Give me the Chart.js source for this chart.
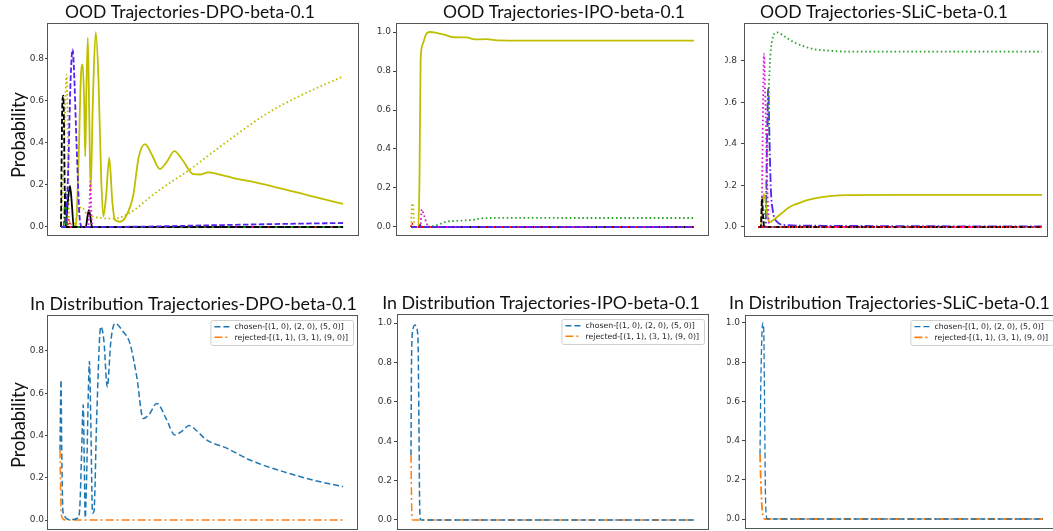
<!DOCTYPE html>
<html>
<head>
<meta charset="utf-8">
<script src="https://cdn.jsdelivr.net/npm/chart.js@4.4.1/dist/chart.umd.min.js"></script>
<style>
html,body{margin:0;padding:0;background:#fff;width:1053px;height:531px;overflow:hidden;position:relative}
canvas{position:absolute}
</style>
</head>
<body>
<canvas id="p1"></canvas><canvas id="p2"></canvas><canvas id="p3"></canvas>
<canvas id="p4"></canvas><canvas id="p5"></canvas><canvas id="p6"></canvas>
<script>
// ---------------- titles / labels ----------------
const panelTitles = [
  "OOD Trajectories-DPO-beta-0.1",
  "OOD Trajectories-IPO-beta-0.1",
  "OOD Trajectories-SLiC-beta-0.1",
  "In Distribution Trajectories-DPO-beta-0.1",
  "In Distribution Trajectories-IPO-beta-0.1",
  "In Distribution Trajectories-SLiC-beta-0.1"
];
const yAxisLabel = "Probability";
const legendLabels = ["chosen-[(1, 0), (2, 0), (5, 0)]", "rejected-[(1, 1), (3, 1), (9, 0)]"];
const ticksTo08 = [0, 0.2, 0.4, 0.6, 0.8];
const ticksTo10 = [0, 0.2, 0.4, 0.6, 0.8, 1.0];

// ---------------- OOD DPO ----------------
const dpoOodOliveSolidX = [0,4.5,5.3,6.3,7.0,7.7,8.2,8.6,9.0,9.5,10.0,10.5,11.3,12.3,13.3,14.2,15.0,16.0,17.1,18.2,19.1,20.9,23.0,25.6,27.5,29.8,32.0,35.1,37.5,40.2,43.0,46.9,49.5,52.2,56.0,61.1,67.0,72.9,79.0,84.8,92.0,100];
const dpoOodOliveSolidY = [0,0,0.01,0.35,0.70,0.774,0.60,0.336,0.65,0.90,0.55,0.17,0.60,0.928,0.70,0.25,0.05,0.15,0.33,0.12,0.035,0.025,0.05,0.15,0.33,0.395,0.35,0.276,0.31,0.361,0.32,0.252,0.25,0.26,0.25,0.233,0.218,0.20,0.18,0.161,0.136,0.11];
const dpoOodOliveDotX = [0,0.9,2.0,2.5,2.9,4.6,6.0,7.3,9.2,11.3,14.0,17.4,20.9,25.9,31.8,38.0,44.8,54.2,61.2,73.0,84.8,100];
const dpoOodOliveDotY = [0,0.30,0.726,0.35,0.03,0.01,0.07,0.095,0.06,0.05,0.043,0.04,0.045,0.08,0.145,0.205,0.265,0.36,0.43,0.54,0.625,0.717];
const dpoOodBlueDashX = [0,1.4,2.5,3.4,4.1,4.6,5.5,6.7,7.5,30,45,60,80,100];
const dpoOodBlueDashY = [0,0,0.25,0.70,0.846,0.75,0.40,0.03,0,0.002,0.006,0.010,0.015,0.019];
const dpoOodBlackDashX = [0,0.2,0.5,0.8,1.1,1.4,1.8,100];
const dpoOodBlackDashY = [0,0.3,0.6,0.625,0.45,0.1,0,0];
const dpoOodGreenX = [0,0.9,1.3,1.6,1.9,2.3,100];
const dpoOodGreenY = [0,0,0.1,0.165,0.08,0,0];
const dpoOodRedX = [0,2.2,2.8,3.4,100];
const dpoOodRedY = [0,0,0.035,0,0];
const dpoOodMagentaX = [0,9.6,10.1,10.4,10.8,11.2,100];
const dpoOodMagentaY = [0,0,0.1,0.216,0.05,0,0];
const dpoOodBlackSolidX = [0,1.6,2.4,3.2,3.9,4.5,8.8,9.4,9.9,10.4,11.0,100];
const dpoOodBlackSolidY = [0,0,0.12,0.196,0.1,0,0,0.05,0.08,0.05,0,0];

// ---------------- OOD IPO ----------------
const ipoOodOliveSolidX = [0,2.6,3.0,3.4,4.2,5.2,6.7,9.0,11.9,15.0,19.6,22.5,26.5,31.2,40,60,80,100];
const ipoOodOliveSolidY = [0,0,0.25,0.86,0.94,0.985,1.0,0.996,0.986,0.973,0.972,0.962,0.963,0.957,0.956,0.956,0.956,0.956];
const ipoOodOliveDotX = [0,0.15,0.4,0.7,0.95,1.2,100];
const ipoOodOliveDotY = [0,0.06,0.12,0.12,0.05,0,0];
const ipoOodMagentaX = [0,3.3,3.8,4.6,5.5,6.3,100];
const ipoOodMagentaY = [0,0,0.09,0.06,0.02,0,0];
const ipoOodRedX = [0,0.3,0.6,1.0,2.7,3.0,3.3,100];
const ipoOodRedY = [0,0.02,0.01,0,0,0.015,0,0];
const ipoOodGreenDotX = [0,6,9.1,12.6,17.3,22,24.4,28,40,60,80,100];
const ipoOodGreenDotY = [0,0.002,0.01,0.027,0.032,0.037,0.044,0.046,0.047,0.046,0.046,0.046];
const ipoOodBlueX = [0,3.0,3.3,3.6,100];
const ipoOodBlueY = [0,0,0.01,0,0];
const ipoOodBlackX = [0,100];
const ipoOodBlackY = [0,0];

// ---------------- OOD SLiC ----------------
const slicOodGreenDotX = [0,1.5,2.3,3.1,3.6,4.2,5.0,6.6,9.5,13,16.5,20,24.6,31.7,50,75,100];
const slicOodGreenDotY = [0,0,0.05,0.21,0.56,0.79,0.9,0.938,0.917,0.888,0.869,0.856,0.85,0.845,0.845,0.845,0.845];
const slicOodMagentaX = [0,1.2,1.7,2.1,2.6,3.3,4.0,100];
const slicOodMagentaY = [0,0,0.5,0.834,0.6,0.19,0,0];
const slicOodBlueX = [0,2.7,3.1,3.6,4.0,4.5,5.2,6.6,9,20,50,100];
const slicOodBlueY = [0,0,0.35,0.668,0.45,0.19,0.08,0.026,0.01,0.006,0.004,0.003];
const slicOodOliveSolidX = [0,1.0,1.5,2.1,2.7,3.6,4.3,5.5,8.3,11,14.2,17,20,26,31.7,50,75,100];
const slicOodOliveSolidY = [0,0,0.1,0.16,0.12,0.035,0.025,0.035,0.066,0.095,0.114,0.128,0.138,0.15,0.154,0.155,0.155,0.155];
const slicOodBlackDashX = [0,1.0,1.4,1.8,2.2,100];
const slicOodBlackDashY = [0,0,0.14,0.05,0,0];
const slicOodRedX = [0,100];
const slicOodRedY = [0,0];

// ---------------- In distribution ----------------
const dpoIdChosenX = [0,0.2,0.35,0.6,1.0,1.5,2.5,4.5,6.3,7.0,7.6,8.2,8.6,8.9,9.4,10.0,10.4,10.9,11.5,12.0,13.0,14.4,15.5,16.7,18.0,19.4,22.4,24.7,27.1,29.4,31.5,34.2,37.5,40.6,43.0,45.7,48.5,51.8,58.9,67.1,78.9,90.7,100];
const dpoIdChosenY = [0.33,0.55,0.663,0.35,0.05,0.02,0.005,0.002,0.01,0.06,0.3,0.545,0.25,0.01,0.2,0.6,0.75,0.45,0.033,0.04,0.5,0.915,0.85,0.63,0.85,0.93,0.89,0.836,0.68,0.48,0.50,0.552,0.48,0.402,0.42,0.447,0.42,0.379,0.34,0.284,0.229,0.185,0.158];
const dpoIdRejectedX = [0,0.15,0.4,0.8,1.8,100];
const dpoIdRejectedY = [0.33,0.2,0.04,0.01,0,0];
const ipoIdChosenX = [0,0.15,0.4,0.8,1.4,2.0,2.5,2.8,3.1,3.5,100];
const ipoIdChosenY = [0.33,0.75,0.93,0.975,0.99,0.975,0.9,0.5,0.05,0,0];
const ipoIdRejectedX = [0,0.15,0.35,0.7,100];
const ipoIdRejectedY = [0.33,0.15,0.01,0,0];
const slicIdChosenX = [0,0.3,0.7,1.0,1.3,1.6,1.9,2.2,2.6,100];
const slicIdChosenY = [0.33,0.7,0.95,1.0,0.97,0.6,0.15,0.02,0,0];
const slicIdRejectedX = [0,0.4,0.8,1.2,1.7,100];
const slicIdRejectedY = [0.33,0.15,0.04,0.01,0,0];

// ---------------- styling ----------------
const COLORS = { olive:'#bfbf00', blue:'#5522ee', black:'#000000', green:'#139413', red:'#ff0000',
                 magenta:'#dd11dd', gdot:'#2aa52a', chosen:'#1f77b4', rejected:'#ff7f0e' };
const DASH = { solid: [], dashed: [5.5, 2.4], dotted: [1.6, 2.6], dashdot: [9, 2.4, 1.6, 2.4],
               chosenDash: [6, 3], rejDash: [8, 3, 2, 3] };

function pts(xs, ys) {
  const n = Math.min(xs.length, ys.length);
  const out = [];
  for (let i = 0; i < n; i++) out.push({ x: xs[i], y: ys[i] });
  return out;
}

const framePlugin = {
  id: 'panelFrame',
  afterDraw(chart, args, opts) {
    const a = chart.chartArea, ctx = chart.ctx;
    ctx.save();
    ctx.strokeStyle = opts.color || '#555';
    ctx.lineWidth = 1;
    ctx.strokeRect(Math.round(a.left) - 0.5, Math.round(a.top) + 0.5,
                   Math.round(a.right - a.left) + 1, Math.round(a.bottom - a.top) - 1);
    ctx.restore();
  }
};

const textPlugin = {
  id: 'panelText',
  afterDraw(chart, args, opts) {
    const ctx = chart.ctx;
    (opts.items || []).forEach(it => {
      ctx.save();
      ctx.font = '100px ' + it.family;
      const w = ctx.measureText(it.text).width;
      const size = 100 * it.width / w;
      ctx.font = size.toFixed(2) + 'px ' + it.family;
      ctx.fillStyle = it.color || '#111';
      ctx.textBaseline = 'alphabetic';
      ctx.textAlign = 'center';
      ctx.translate(it.x - opts.ox, it.y - opts.oy);
      if (it.rotate) ctx.rotate(-Math.PI / 2);
      ctx.fillText(it.text, 0, 0);
      ctx.restore();
    });
  }
};

const legendPlugin = {
  id: 'panelLegend',
  afterDraw(chart, args, opts) {
    if (!opts.show) return;
    const ctx = chart.ctx, a = chart.chartArea;
    const ds = chart.data.datasets.filter(d => d.label);
    ctx.save();
    ctx.font = '7.8px "DejaVu Sans"';
    const tw = Math.max(...ds.map(d => ctx.measureText(d.label).width));
    const pad = 4, sample = 16, gap = 4, rowH = 10.6;
    const w = pad + sample + gap + tw + 5, h = 25;
    const x0 = a.right - 4 - w, y0 = a.top + 5;
    ctx.beginPath();
    ctx.roundRect(x0 + 0.5, y0 + 0.5, w, h, 2);
    ctx.fillStyle = 'rgba(255,255,255,0.85)';
    ctx.fill();
    ctx.strokeStyle = '#d0d0d0';
    ctx.lineWidth = 1;
    ctx.stroke();
    ds.forEach((d, i) => {
      const cy = y0 + 6.7 + rowH * i;
      ctx.beginPath();
      ctx.setLineDash(d.borderDash || []);
      ctx.strokeStyle = d.borderColor;
      ctx.lineWidth = d.borderWidth;
      ctx.moveTo(x0 + pad, cy);
      ctx.lineTo(x0 + pad + sample, cy);
      ctx.stroke();
      ctx.setLineDash([]);
      ctx.fillStyle = '#222';
      ctx.textAlign = 'left';
      ctx.textBaseline = 'middle';
      ctx.fillText(d.label, x0 + pad + sample + gap, cy + 0.5);
    });
    ctx.restore();
  }
};

function makePanel(cfg) {
  const cv = document.getElementById(cfg.id);
  const [bx, by, bw, bh] = cfg.box;
  cv.width = bw; cv.height = bh;
  cv.style.left = bx + 'px'; cv.style.top = by + 'px';
  const [fl, ft, fr, fb] = cfg.frame;
  const yW = fl - bx;
  new Chart(cv, {
    type: 'line',
    data: {
      datasets: cfg.series.map(s => ({
        label: s.label || '',
        data: pts(s.x, s.y),
        borderColor: s.color,
        borderWidth: s.width || 1.8,
        borderDash: DASH[s.style],
        pointRadius: 0,
        fill: false,
        cubicInterpolationMode: 'monotone'
      }))
    },
    options: {
      responsive: false,
      animation: false,
      events: [],
      layout: { padding: { left: 0, top: ft - by, right: bx + bw - fr, bottom: by + bh - fb } },
      scales: {
        x: { type: 'linear', display: false, min: cfg.xRange[0], max: cfg.xRange[1] },
        y: {
          type: 'linear', min: cfg.yRange[0], max: cfg.yRange[1],
          afterFit: s => { s.width = yW; },
          afterBuildTicks: s => { s.ticks = cfg.yTicks.map(v => ({ value: v })); },
          ticks: { font: { family: 'DejaVu Sans', size: 9 }, color: '#333', padding: cfg.tickPad,
                   callback: v => Number(v).toFixed(1) },
          grid: { drawOnChartArea: false, drawTicks: true, tickLength: cfg.tickLen, color: '#444', tickColor: '#444' },
          border: { display: false }
        }
      },
      plugins: {
        legend: { display: false }, title: { display: false }, tooltip: { enabled: false },
        panelFrame: { color: '#555' },
        panelText: { ox: bx, oy: by, items: cfg.texts },
        panelLegend: { show: !!cfg.legend }
      }
    },
    plugins: [framePlugin, textPlugin, legendPlugin]
  });
}

const TF = 'Lato';
const S = (x, y, color, style, width, label) => ({ x, y, color, style, width, label });

makePanel({
  id: 'p1', box: [0, 0, 372, 262], frame: [48, 23, 358, 236],
  xRange: [-4.61, 105.3], yRange: [-0.0429, 0.9714], yTicks: ticksTo08, tickPad: 1, tickLen: 3,
  texts: [
    { text: panelTitles[0], x: 190, y: 18.3, width: 250, family: TF },
    { text: yAxisLabel, x: 25, y: 135, width: 86, family: TF, rotate: true }
  ],
  series: [
    S(dpoOodBlueDashX, dpoOodBlueDashY, COLORS.blue, 'dashed'),
    S(dpoOodBlackDashX, dpoOodBlackDashY, COLORS.black, 'dashed'),
    S(dpoOodGreenX, dpoOodGreenY, COLORS.green, 'dashdot'),
    S(dpoOodRedX, dpoOodRedY, COLORS.red, 'dotted'),
    S(dpoOodMagentaX, dpoOodMagentaY, COLORS.magenta, 'dotted'),
    S(dpoOodBlackSolidX, dpoOodBlackSolidY, COLORS.black, 'solid'),
    S(dpoOodOliveDotX, dpoOodOliveDotY, COLORS.olive, 'dotted'),
    S(dpoOodOliveSolidX, dpoOodOliveSolidY, COLORS.olive, 'solid')
  ]
});

makePanel({
  id: 'p2', box: [372, 0, 353, 262], frame: [397, 23, 708, 236],
  xRange: [-4.95, 104.95], yRange: [-0.0462, 1.0462], yTicks: ticksTo10, tickPad: 2, tickLen: 4,
  texts: [ { text: panelTitles[1], x: 564, y: 18.3, width: 242, family: TF } ],
  series: [
    S(ipoOodBlueX, ipoOodBlueY, COLORS.blue, 'dashed'),
    S(ipoOodRedX, ipoOodRedY, COLORS.red, 'dotted'),
    S(ipoOodMagentaX, ipoOodMagentaY, COLORS.magenta, 'dotted'),
    S(ipoOodOliveDotX, ipoOodOliveDotY, COLORS.olive, 'dotted'),
    S(ipoOodGreenDotX, ipoOodGreenDotY, COLORS.gdot, 'dotted'),
    S(ipoOodBlackX, ipoOodBlackY, COLORS.black, 'solid'),
    S(ipoOodOliveSolidX, ipoOodOliveSolidY, COLORS.olive, 'solid')
  ]
});

makePanel({
  id: 'p3', box: [725, 0, 335, 262], frame: [745, 23, 1047, 237],
  xRange: [-4.58, 101.76], yRange: [-0.0482, 0.9831], yTicks: ticksTo08, tickPad: 4, tickLen: 4,
  texts: [ { text: panelTitles[2], x: 884, y: 18.3, width: 248, family: TF } ],
  series: [
    S(slicOodRedX, slicOodRedY, COLORS.red, 'dotted'),
    S(slicOodBlackDashX, slicOodBlackDashY, COLORS.black, 'dashed'),
    S(slicOodMagentaX, slicOodMagentaY, COLORS.magenta, 'dotted'),
    S(slicOodGreenDotX, slicOodGreenDotY, COLORS.gdot, 'dotted'),
    S(slicOodOliveSolidX, slicOodOliveSolidY, COLORS.olive, 'solid'),
    S(slicOodBlueX, slicOodBlueY, COLORS.blue, 'dashdot')
  ]
});

makePanel({
  id: 'p4', box: [0, 262, 372, 278], frame: [48, 315, 357, 530],
  xRange: [-4.24, 104.95], yRange: [-0.0473, 0.9704], yTicks: ticksTo08, tickPad: 1, tickLen: 3,
  legend: true,
  texts: [
    { text: panelTitles[3], x: 193.5, y: 309.5, width: 327, family: TF },
    { text: yAxisLabel, x: 25, y: 425, width: 86, family: TF, rotate: true }
  ],
  series: [
    S(dpoIdChosenX, dpoIdChosenY, COLORS.chosen, 'chosenDash', 1.5, legendLabels[0]),
    S(dpoIdRejectedX, dpoIdRejectedY, COLORS.rejected, 'rejDash', 1.5, legendLabels[1])
  ]
});

makePanel({
  id: 'p5', box: [372, 262, 354, 278], frame: [398, 314, 708, 530],
  xRange: [-4.59, 104.95], yRange: [-0.0508, 1.0457], yTicks: ticksTo10, tickPad: 2, tickLen: 4,
  legend: true,
  texts: [ { text: panelTitles[4], x: 541, y: 308.5, width: 318, family: TF } ],
  series: [
    S(ipoIdChosenX, ipoIdChosenY, COLORS.chosen, 'chosenDash', 1.5, legendLabels[0]),
    S(ipoIdRejectedX, ipoIdRejectedY, COLORS.rejected, 'rejDash', 1.5, legendLabels[1])
  ]
});

makePanel({
  id: 'p6', box: [727, 262, 333, 278], frame: [746, 315, 1057, 529],
  xRange: [-4.95, 104.95], yRange: [-0.051, 1.0408], yTicks: ticksTo10, tickPad: 2, tickLen: 4,
  legend: true,
  texts: [ { text: panelTitles[5], x: 889.5, y: 309.3, width: 321, family: TF } ],
  series: [
    S(slicIdChosenX, slicIdChosenY, COLORS.chosen, 'chosenDash', 1.3, legendLabels[0]),
    S(slicIdRejectedX, slicIdRejectedY, COLORS.rejected, 'rejDash', 1.8, legendLabels[1])
  ]
});
</script>
</body>
</html>
